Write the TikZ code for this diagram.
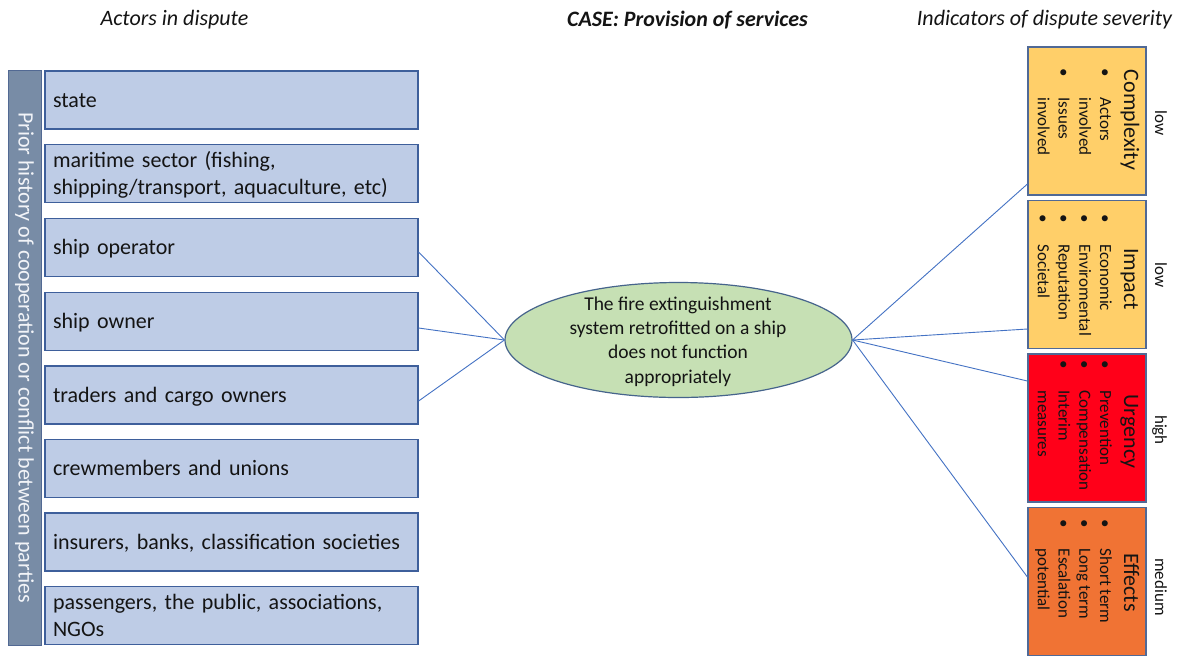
\documentclass[tikz,border=0pt]{standalone}
\usepackage{fontspec}
\setmainfont{Carlito}
\usetikzlibrary{shapes.geometric}
\definecolor{actfill}{RGB}{190,204,230}
\definecolor{actdraw}{RGB}{62,95,155}
\definecolor{barfill}{RGB}{120,140,166}
\definecolor{bartext}{RGB}{242,244,248}
\definecolor{elfill}{RGB}{198,224,180}
\definecolor{eldraw}{RGB}{70,100,140}
\definecolor{gold}{RGB}{255,207,105}
\definecolor{urgred}{RGB}{255,0,25}
\definecolor{effor}{RGB}{240,115,52}
\definecolor{sevdraw}{RGB}{80,105,150}
\definecolor{conncol}{RGB}{68,114,196}
\definecolor{ink}{RGB}{20,20,20}
\newcommand{\bul}{\makebox[29.5pt][l]{\textbullet}}
\newcommand{\nob}{\hspace*{29.5pt}}
\newcommand{\topstrut}{\rule[-6pt]{0pt}{29pt}}
\tikzset{
  hdr/.style={font=\fontsize{22}{26}\selectfont, text=ink, inner sep=0},
  actor/.style={draw=actdraw, line width=1.2pt, fill=actfill, minimum width=373pt, minimum height=58pt,
    text width=357pt, inner xsep=8pt, inner ysep=0pt, align=left, text=ink,
    font=\fontsize{22}{27}\selectfont},
  barbox/.style={draw=actdraw!70!gray, line width=1pt, fill=barfill, minimum width=33pt, minimum height=575pt, inner sep=0},
  bartxt/.style={rotate=-90, text=bartext, font=\fontsize{22}{26}\selectfont, inner sep=0},
  casebox/.style={ellipse, draw=eldraw, line width=1.2pt, fill=elfill, minimum width=347pt, minimum height=115pt, inner sep=0},
  casetxt/.style={align=center, text=ink, font=\fontsize{19.5}{24.2}\selectfont, inner sep=0},
  sevbox/.style={draw=sevdraw, line width=1.2pt, minimum width=118pt, minimum height=148pt, inner sep=0},
  sevtitle/.style={rotate=-90, anchor=base, text=ink, font=\fontsize{22}{26}\selectfont, inner sep=0},
  sevlist/.style={rotate=-90, anchor=base west, text=ink, font=\fontsize{17}{20.7}\selectfont, inner sep=0},
  sevlevel/.style={rotate=-90, anchor=base, text=ink, font=\fontsize{17}{20}\selectfont, inner sep=0},
  conn/.style={draw=conncol, line width=0.9pt}
}
\begin{document}
\begin{tikzpicture}[x=1pt,y=-1pt]
\useasboundingbox[fill=white] (0,0) rectangle (1186,657);

% headers
\node[hdr] (h1) at (174.5,20) {\itshape Actors in dispute};
\node[hdr] (h2) at (687.5,20) {\bfseries\itshape CASE: Provision of services};
\node[hdr] (h3) at (1044.5,20) {\itshape Indicators of dispute severity};

% left bar
\node[barbox] (bar) at (24.5,357.5) {};
\node[bartxt] (bart) at (bar.center) {Prior history of cooperation or conflict between parties};

% actors
\node[actor] (a1) at (231.5,100)   {\topstrut state\strut};
\node[actor] (a2) at (231.5,173.5) {\topstrut maritime sector (fishing,\\shipping/transport, aquaculture, etc)\strut};
\node[actor] (a3) at (231.5,247.5) {\topstrut ship operator\strut};
\node[actor] (a4) at (231.5,321.5) {\topstrut ship owner\strut};
\node[actor] (a5) at (231.5,395)   {\topstrut traders and cargo owners\strut};
\node[actor] (a6) at (231.5,468.5) {\topstrut crewmembers and unions\strut};
\node[actor] (a7) at (231.5,542)   {\topstrut insurers, banks, classification societies\strut};
\node[actor] (a8) at (231.5,615.5) {\topstrut passengers, the public, associations,\\NGOs\strut};

% case
\node[casebox] (c) at (678.5,340) {};
\node[casetxt] (ct) at (678,341.5) {The fire extinguishment\\system retrofitted on a ship\\does not function\\appropriately};

% severity boxes
\node[sevbox, fill=gold]   (s1) at (1087,121) {};
\node[sevbox, fill=gold]   (s2) at (1087,274.5) {};
\node[sevbox, fill=urgred] (s3) at (1087,428) {};
\node[sevbox, fill=effor]  (s4) at (1087,581.5) {};

\node[sevtitle] (t1) at (1124,120) {Complexity};
\node[sevtitle] (t2) at (1124,279) {Impact};
\node[sevtitle] (t3) at (1124,431.5) {Urgency};
\node[sevtitle] (t4) at (1124,582.5) {Effects};

\node[sevlist] (l1) at (1100,68) {\begin{tabular}[t]{@{}l@{}}\bul Actors\\ \nob involved\\ \bul Issues\\ \nob involved\end{tabular}};
\node[sevlist] (l2) at (1100,214.75) {\begin{tabular}[t]{@{}l@{}}\bul Economic\\ \bul Enviromental\\ \bul Reputation\\ \bul Societal\end{tabular}};
\node[sevlist] (l3) at (1100,360.75) {\begin{tabular}[t]{@{}l@{}}\bul Prevention\\ \bul Compensation\\ \bul Interim\\ \nob measures\end{tabular}};
\node[sevlist] (l4) at (1100,519) {\begin{tabular}[t]{@{}l@{}}\bul Short term\\ \bul Long term\\ \bul Escalation\\ \nob potential\end{tabular}};

\node[sevlevel] (v1) at (1155,123) {low};
\node[sevlevel] (v2) at (1155,275) {low};
\node[sevlevel] (v3) at (1155,430) {high};
\node[sevlevel] (v4) at (1155,587) {medium};

% connectors
\draw[conn] ([yshift=-4.5pt]a3.east) -- (c.west);
\draw[conn] ([yshift=-6.5pt]a4.east) -- (c.west);
\draw[conn] ([yshift=-6pt]a5.east) -- (c.west);
\draw[conn] (c.east) -- ([yshift=-63pt]s1.west);
\draw[conn] (c.east) -- ([yshift=-54.5pt]s2.west);
\draw[conn] (c.east) -- ([yshift=47pt]s3.west);
\draw[conn] (c.east) -- ([yshift=4.5pt]s4.west);
\end{tikzpicture}
\end{document}
